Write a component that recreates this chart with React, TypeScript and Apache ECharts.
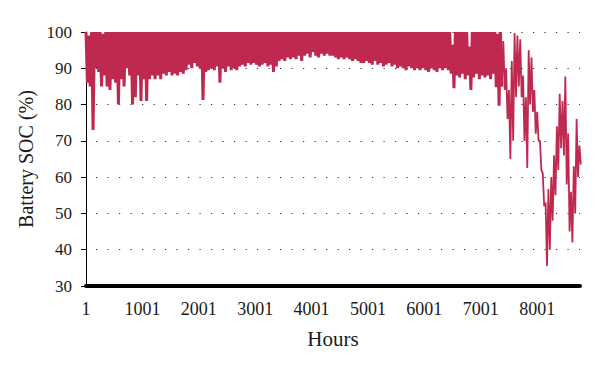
import React, { useEffect, useRef } from "react";
import * as echarts from "echarts";

// Hourly battery state of charge, read from the picture as a high/low envelope
// in consecutive 50-hour bins (hour 0 .. 8750).
const BIN_HOURS = 50;

const socHigh: number[] = [
  100, 99, 100, 100, 100, 100, 99.5, 100, 100, 100,
  100, 100, 100, 100, 100, 100, 100, 100, 100, 100,
  100, 100, 100, 100, 100, 100, 100, 100, 100, 100,
  100, 100, 100, 100, 100, 100, 100, 100, 100, 100,
  100, 100, 100, 100, 100, 100, 100, 100, 100, 100,
  100, 100, 100, 100, 100, 100, 100, 100, 100, 100,
  100, 100, 100, 100, 100, 100, 100, 100, 100, 100,
  100, 100, 100, 100, 100, 100, 100, 100, 100, 100,
  100, 100, 100, 100, 100, 100, 100, 100, 100, 100,
  100, 100, 100, 100, 100, 100, 100, 100, 100, 100,
  100, 100, 100, 100, 100, 100, 100, 100, 100, 100,
  100, 100, 100, 100, 100, 100, 100, 100, 100, 100,
  100, 100, 100, 100, 100, 100, 100, 100, 100, 100,
  96.5, 100, 100, 100, 100, 100, 96, 100, 100, 100,
  100, 100, 100, 100, 100, 100, 99.5, 100, 97.5, 90,
  84, 92, 99.7, 99, 98, 88, 82, 95, 93, 84,
  78, 70, 61, 53, 56.7, 60, 66, 74, 83, 81,
  87.7, 72, 56, 63, 76, 68.7,
];

const socLow: number[] = [
  86, 85, 73, 90, 89, 85, 88, 85, 84, 87,
  86, 80, 87, 85, 90, 88, 80, 82, 88, 81,
  87, 81, 87, 88, 87, 88, 87, 88.5, 88, 89,
  88, 88.5, 88, 89, 88.5, 89.5, 91, 90, 91.5, 90.5,
  90, 81.3, 89, 89.5, 90, 89.5, 90.5, 86, 90, 89,
  90.5, 89.5, 90, 89.5, 90.5, 91, 90.5, 91.5, 91, 91.5,
  91, 90.5, 91, 91.5, 90.5, 91, 89, 90.5, 92, 92.5,
  92, 93, 92.5, 93, 92.5, 93.5, 92, 93.5, 94, 93,
  94.5, 93.5, 93, 94, 93.5, 94, 93.5, 93.5, 93, 92.5,
  93, 92.5, 93, 92.5, 92, 92.5, 92, 91.5, 91.5, 92,
  91.5, 91, 92, 91, 91.5, 90.5, 91, 91.5, 90.5, 91,
  90, 90.5, 90, 89.5, 90.5, 90, 89.5, 90, 89.5, 90,
  89.5, 89, 90, 89.5, 89, 90, 89.5, 90, 89.5, 88.5,
  84.5, 88, 87.5, 88.5, 87, 88, 84, 87.5, 88.5, 87,
  88, 87.5, 88, 87, 88.5, 84.8, 79.7, 85, 84, 76,
  65, 70, 82, 85, 82, 70, 62.5, 80, 78, 72,
  70, 62, 52, 35.5, 40, 48, 55, 62, 68, 66,
  58, 45, 42, 50, 60, 63.5,
];

// first bin of the late-year period where the trace becomes a sparse line
const SPARSE_FROM_BIN = 147;

const X_MAX_HOURS = 8760;
const Y_MIN = 30;
const Y_MAX = 100;

const SERIF = "'Liberation Serif', 'Times New Roman', serif";
const LINE_COLOR = "#c0294f";

export default function App() {
  const ref = useRef<HTMLDivElement | null>(null);

  useEffect(() => {
    if (!ref.current) return;
    const chart = echarts.init(ref.current, undefined, { renderer: "svg" });

    const dense: [number, number][] = [];
    const sparse: [number, number][] = [];
    socHigh.forEach((h, i) => {
      const a: [number, number] = [i * BIN_HOURS, h];
      const b: [number, number] = [i * BIN_HOURS + BIN_HOURS / 2, socLow[i]];
      if (i <= SPARSE_FROM_BIN) dense.push(a, b);
      if (i >= SPARSE_FROM_BIN) sparse.push(a, b);
    });

    chart.setOption({
      animation: false,
      backgroundColor: "#ffffff",
      grid: { left: 86, right: 20, top: 32, bottom: 86 },
      xAxis: {
        type: "value",
        min: 0,
        max: X_MAX_HOURS,
        interval: 1000,
        name: "Hours",
        nameLocation: "middle",
        nameGap: 42,
        nameTextStyle: { fontFamily: SERIF, fontSize: 21, color: "#1a1a1a" },
        axisLine: { show: true, onZero: false, lineStyle: { color: "#000", width: 4 } },
        axisTick: { show: false },
        axisLabel: {
          fontFamily: SERIF,
          fontSize: 18,
          color: "#1a1a1a",
          margin: 14,
          showMaxLabel: false,
          formatter: (v: number) => String(v + 1),
        },
        splitLine: { show: false },
      },
      yAxis: {
        type: "value",
        min: Y_MIN,
        max: Y_MAX,
        interval: 10,
        name: "Battery SOC (%)",
        nameLocation: "middle",
        nameGap: 41,
        nameTextStyle: { fontFamily: SERIF, fontSize: 20, color: "#1a1a1a" },
        axisLine: { show: true, lineStyle: { color: "#000", width: 1 } },
        axisTick: { show: true, length: 5, lineStyle: { color: "#000" } },
        axisLabel: { fontFamily: SERIF, fontSize: 17, color: "#1a1a1a", margin: 14 },
        splitLine: {
          show: true,
          lineStyle: { color: "#333", width: 1.2, type: [1.2, 10.3], dashOffset: -10 },
        },
      },
      series: [
        {
          type: "line",
          data: dense,
          showSymbol: false,
          symbol: "none",
          clip: true,
          lineStyle: { color: LINE_COLOR, width: 3, join: "bevel" },
          z: 3,
        },
        {
          type: "line",
          data: sparse,
          showSymbol: false,
          symbol: "none",
          clip: true,
          lineStyle: { color: LINE_COLOR, width: 1.8, join: "bevel" },
          z: 3,
        },
      ],
    });

    return () => chart.dispose();
  }, []);

  return (
    <div
      ref={ref}
      style={{ position: "fixed", left: 0, top: 0, width: 600, height: 372 }}
    />
  );
}
